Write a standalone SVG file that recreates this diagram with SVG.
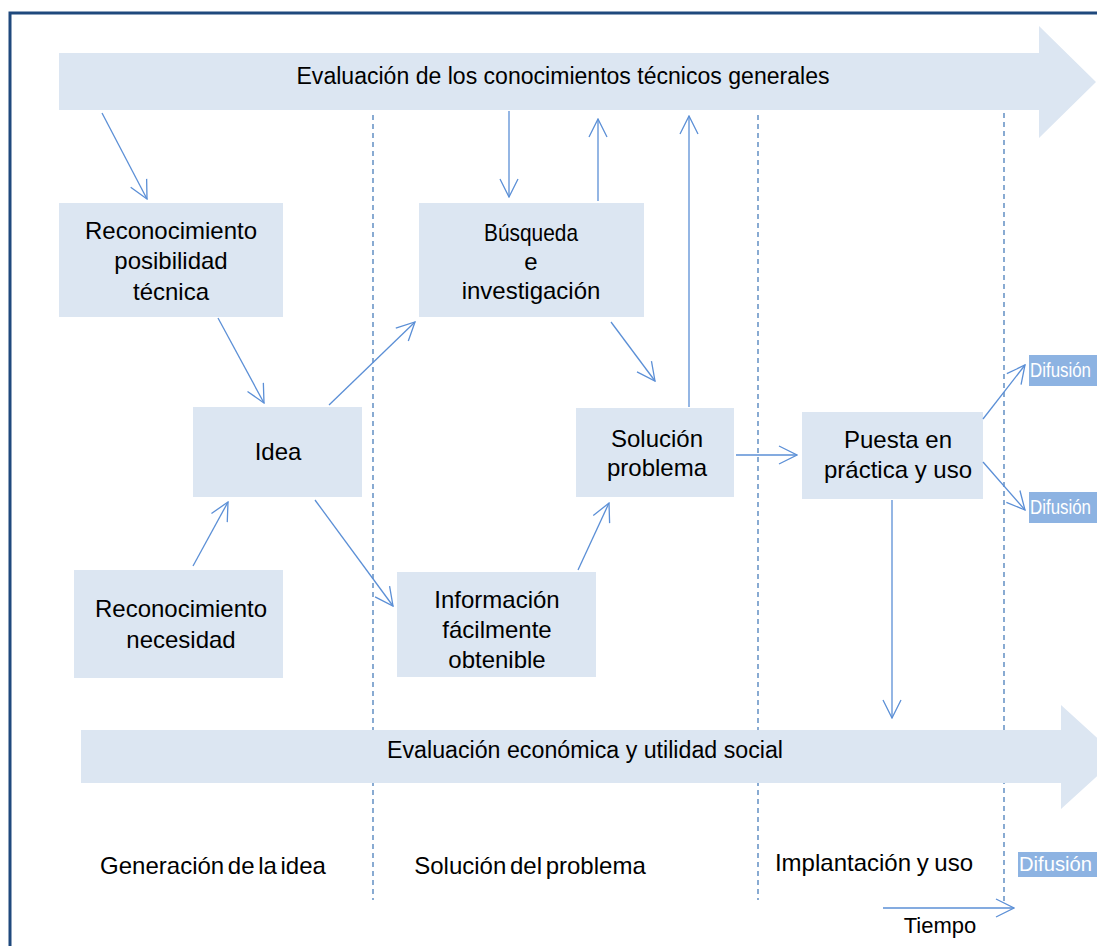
<svg xmlns="http://www.w3.org/2000/svg" width="1097" height="946" viewBox="0 0 1097 946">
<style>
.box{fill:#DCE6F2}
.t{font-family:"Liberation Sans",Arial,sans-serif;font-size:24px;fill:#000;text-anchor:middle}
.big{font-family:"Liberation Sans",Arial,sans-serif;font-size:23px;fill:#000;text-anchor:middle}
.dif{fill:#8DB3E2}
.dt{font-family:"Liberation Sans",Arial,sans-serif;font-size:20px;fill:#fff}
.dash{stroke:#4A7EBB;stroke-width:1.3;stroke-dasharray:5 4;fill:none}
.c{stroke:#5B8FD6;stroke-width:1.3;fill:none;marker-end:url(#ah)}
</style>
<defs>
<marker id="ah" viewBox="0 0 20 20" refX="19" refY="10" markerWidth="20" markerHeight="20" markerUnits="userSpaceOnUse" orient="auto">
<path d="M1,1 L19,10 L1,19" fill="none" stroke="#5B8FD6" stroke-width="1.3"/>
</marker>
</defs>
<rect width="1097" height="946" fill="#fff"/>
<path d="M10,946 L10,13 L1097,13" fill="none" stroke="#1F497D" stroke-width="3"/>
<g id="dividers">
<line class="dash" x1="373" y1="115" x2="373" y2="900"/>
<line class="dash" x1="758" y1="115" x2="758" y2="900"/>
<line class="dash" x1="1004" y1="113" x2="1004" y2="905"/>
</g>
<g id="top-arrow">
<path class="box" d="M59,53 L1039,53 L1039,26 L1096,82 L1039,138 L1039,110 L59,110 Z"/>
<text class="big" x="563" y="84" textLength="533" lengthAdjust="spacingAndGlyphs">Evaluación de los conocimientos técnicos generales</text>
</g>
<g id="bottom-arrow">
<path class="box" d="M81,730 L1061,730 L1061,705 L1118,757 L1061,809 L1061,783 L81,783 Z"/>
<text class="big" x="585" y="758" textLength="396" lengthAdjust="spacingAndGlyphs">Evaluación económica y utilidad social</text>
</g>
<g id="n-posibilidad">
<rect class="box" x="59" y="203" width="224" height="114"/>
<text class="t" x="171" y="239">Reconocimiento</text>
<text class="t" x="171" y="269">posibilidad</text>
<text class="t" x="171" y="300">técnica</text>
</g>
<g id="n-idea">
<rect class="box" x="193" y="407" width="169" height="90"/>
<text class="t" x="278" y="460">Idea</text>
</g>
<g id="n-necesidad">
<rect class="box" x="74" y="570" width="209" height="108"/>
<text class="t" x="181" y="617">Reconocimiento</text>
<text class="t" x="181" y="648">necesidad</text>
</g>
<g id="n-busqueda">
<rect class="box" x="419" y="203" width="225" height="114"/>
<text class="t" x="531" y="241" textLength="94" lengthAdjust="spacingAndGlyphs">Búsqueda</text>
<text class="t" x="531" y="270">e</text>
<text class="t" x="531" y="299">investigación</text>
</g>
<g id="n-solucion">
<rect class="box" x="576" y="408" width="158" height="89"/>
<text class="t" x="657" y="447">Solución</text>
<text class="t" x="657" y="476">problema</text>
</g>
<g id="n-informacion">
<rect class="box" x="397" y="572" width="199" height="105"/>
<text class="t" x="497" y="608">Información</text>
<text class="t" x="497" y="638">fácilmente</text>
<text class="t" x="497" y="668">obtenible</text>
</g>
<g id="n-puesta">
<rect class="box" x="802" y="412" width="181" height="87"/>
<text class="t" x="898" y="448">Puesta en</text>
<text class="t" x="898" y="478">práctica y uso</text>
</g>
<g id="n-difusion1">
<rect class="dif" x="1029" y="355" width="68" height="31"/>
<text class="dt" x="1030" y="377" textLength="61" lengthAdjust="spacingAndGlyphs">Difusión</text>
</g>
<g id="n-difusion2">
<rect class="dif" x="1029" y="492" width="68" height="31"/>
<text class="dt" x="1030" y="514" textLength="61" lengthAdjust="spacingAndGlyphs">Difusión</text>
</g>
<g id="n-difusion3">
<rect class="dif" x="1018" y="852" width="79" height="25"/>
<text class="dt" x="1019" y="871" textLength="73" lengthAdjust="spacingAndGlyphs">Difusión</text>
</g>
<g id="labels">
<text class="t" x="213" y="874" style="word-spacing:-3px">Generación de la idea</text>
<text class="t" x="530" y="874" style="word-spacing:-3px">Solución del problema</text>
<text class="t" x="874" y="871" style="word-spacing:-1px">Implantación y uso</text>
<text class="t" x="940" y="933" style="font-size:22px">Tiempo</text>
</g>
<g id="connectors">
<line class="c" x1="102" y1="113" x2="147" y2="199"/>
<line class="c" x1="218" y1="318" x2="264" y2="403"/>
<line class="c" x1="193" y1="566" x2="228" y2="502"/>
<line class="c" x1="329" y1="405" x2="415" y2="322"/>
<line class="c" x1="315" y1="500" x2="393" y2="606"/>
<line class="c" x1="509" y1="111" x2="509" y2="197"/>
<line class="c" x1="598" y1="201" x2="598" y2="119"/>
<line class="c" x1="689" y1="407" x2="689" y2="116"/>
<line class="c" x1="611" y1="322" x2="655" y2="381"/>
<line class="c" x1="578" y1="570" x2="609" y2="503"/>
<line class="c" x1="736" y1="455" x2="797" y2="455"/>
<line class="c" x1="892" y1="500" x2="892" y2="718"/>
<line class="c" x1="983" y1="419" x2="1025" y2="365"/>
<line class="c" x1="983" y1="462" x2="1025" y2="510"/>
<line class="c" x1="883" y1="908" x2="1014" y2="908"/>
</g>
</svg>
